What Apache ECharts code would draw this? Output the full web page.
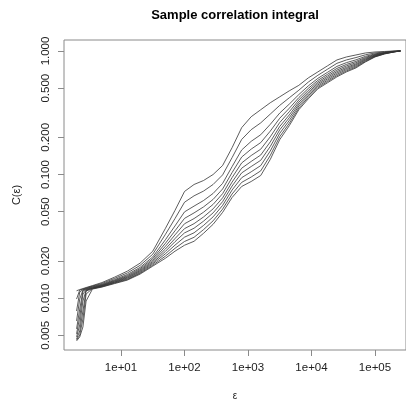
<!DOCTYPE html>
<html><head><meta charset="utf-8">
<script src="https://cdn.jsdelivr.net/npm/echarts@6/dist/echarts.min.js"></script>
<style>html,body{margin:0;padding:0;background:#fff}#c{width:406px;height:406px}</style>
</head><body><div id="c"></div>
<script>
const eps = [1.995, 2.239, 2.512, 2.818, 3.548, 5.012, 7.943, 12.59, 19.95, 31.62, 50.12, 70.79, 100, 141.3, 199.5, 281.8, 398.1, 562.3, 794.3, 1122, 1585, 2239, 3162, 4467, 6310, 8913, 12589, 17783, 25119, 35481, 50119, 70795, 100000, 141254, 199526, 251189];

const curve1 = [0.01146, 0.01172, 0.01194, 0.01217, 0.01262, 0.01335, 0.01478, 0.01652, 0.01917, 0.02395, 0.0367, 0.05126, 0.07294, 0.08306, 0.08946, 0.1, 0.1183, 0.1652, 0.2395, 0.2937, 0.3345, 0.3809, 0.4257, 0.4759, 0.5271, 0.6058, 0.6772, 0.757, 0.8462, 0.8946, 0.9284, 0.9636, 0.9816, 0.9908, 1.0, 1.0];
const curve2 = [0.00982, 0.01161, 0.01183, 0.01205, 0.01251, 0.01313, 0.01443, 0.01598, 0.01839, 0.02265, 0.03283, 0.04401, 0.05968, 0.06722, 0.07347, 0.08306, 0.0993, 0.1373, 0.1923, 0.2308, 0.2618, 0.3082, 0.3629, 0.4179, 0.4812, 0.5604, 0.6358, 0.7107, 0.7944, 0.8462, 0.8846, 0.9318, 0.9636, 0.9816, 0.9963, 1.0];
const curve3 = [0.00786, 0.01119, 0.01172, 0.01194, 0.01239, 0.01293, 0.01411, 0.01551, 0.01772, 0.02154, 0.0297, 0.03837, 0.04986, 0.05552, 0.0616, 0.07028, 0.08476, 0.1161, 0.158, 0.1857, 0.2099, 0.2546, 0.3146, 0.3718, 0.4435, 0.5222, 0.6002, 0.6709, 0.75, 0.8048, 0.8476, 0.9046, 0.9476, 0.9725, 0.993, 1.0];
const curve4 = [0.00653, 0.00982, 0.01161, 0.01183, 0.01228, 0.01279, 0.0139, 0.0152, 0.0173, 0.02084, 0.02778, 0.03504, 0.04418, 0.04892, 0.0547, 0.06288, 0.0764, 0.1039, 0.1385, 0.1606, 0.1813, 0.2244, 0.2856, 0.3439, 0.4195, 0.4986, 0.5784, 0.6465, 0.7226, 0.7783, 0.8229, 0.8863, 0.9371, 0.968, 0.9908, 1.0];
const curve5 = [0.00563, 0.00815, 0.0114, 0.01172, 0.01217, 0.01269, 0.01375, 0.01495, 0.01695, 0.02026, 0.02628, 0.03247, 0.03997, 0.04401, 0.04957, 0.0573, 0.07001, 0.09458, 0.1241, 0.1425, 0.1603, 0.2019, 0.2637, 0.3223, 0.4011, 0.4795, 0.5604, 0.6264, 0.7001, 0.757, 0.8033, 0.8716, 0.9284, 0.9636, 0.989, 1.0];
const curve6 = [0.00513, 0.00703, 0.01078, 0.01161, 0.01205, 0.0126, 0.0136, 0.01473, 0.01665, 0.01975, 0.02499, 0.03031, 0.03649, 0.04004, 0.04535, 0.05271, 0.06477, 0.087, 0.1125, 0.1276, 0.1438, 0.1836, 0.2453, 0.3037, 0.3852, 0.4628, 0.545, 0.6092, 0.681, 0.7375, 0.7856, 0.8587, 0.9198, 0.96, 0.9872, 1.0];
const curve7 = [0.00485, 0.00606, 0.00946, 0.0115, 0.01205, 0.01251, 0.01347, 0.01454, 0.01637, 0.01931, 0.0239, 0.02861, 0.0337, 0.03677, 0.04195, 0.04892, 0.06036, 0.08078, 0.1031, 0.1161, 0.1303, 0.1686, 0.2303, 0.2883, 0.3711, 0.4485, 0.531, 0.5937, 0.6635, 0.7213, 0.7711, 0.8476, 0.913, 0.9564, 0.9858, 1.0];
const curve8 = [0.00467, 0.00542, 0.00786, 0.0114, 0.01194, 0.01245, 0.01335, 0.01433, 0.01609, 0.01889, 0.02286, 0.02682, 0.03111, 0.03376, 0.03873, 0.04543, 0.05625, 0.075, 0.09423, 0.1052, 0.1181, 0.1549, 0.2158, 0.2736, 0.3583, 0.4345, 0.5173, 0.5784, 0.6465, 0.7054, 0.7556, 0.8352, 0.9063, 0.9529, 0.9844, 1.0];
const curve9 = [0.00459, 0.00503, 0.00677, 0.01078, 0.01194, 0.01235, 0.01323, 0.01414, 0.01585, 0.01846, 0.02186, 0.02527, 0.02872, 0.03105, 0.03583, 0.04218, 0.05251, 0.06963, 0.08635, 0.09546, 0.107, 0.1425, 0.2026, 0.2598, 0.3451, 0.4218, 0.505, 0.5645, 0.6311, 0.6899, 0.7416, 0.8245, 0.8995, 0.9493, 0.983, 1.0];
const curve10 = [0.0045, 0.00485, 0.00584, 0.00946, 0.01183, 0.01228, 0.01311, 0.01398, 0.01563, 0.01813, 0.02103, 0.02395, 0.02677, 0.02883, 0.03345, 0.03953, 0.04939, 0.06525, 0.08004, 0.08782, 0.09816, 0.1323, 0.1917, 0.2485, 0.3345, 0.4102, 0.4939, 0.5521, 0.6172, 0.6772, 0.7294, 0.8153, 0.8946, 0.9458, 0.9816, 1.0];

const xTickValues = [10, 100, 1000, 10000, 100000];
const xTickLabels = ['1e+01', '1e+02', '1e+03', '1e+04', '1e+05'];
const yTickValues = [0.005, 0.01, 0.02, 0.05, 0.1, 0.2, 0.5, 1];
const yTickLabels = ['0.005', '0.010', '0.020', '0.050', '0.100', '0.200', '0.500', '1.000'];

const curves = [curve1, curve2, curve3, curve4, curve5, curve6, curve7, curve8, curve9, curve10];

function lookup(values, labels, v) {
  const i = values.findIndex(t => Math.abs(t - v) / t < 1e-6);
  return i >= 0 ? labels[i] : '';
}

const FONT = 'Liberation Sans';
const chart = echarts.init(document.getElementById('c'), null, {renderer: 'canvas'});
chart.setOption({
  animation: false,
  backgroundColor: '#fff',
  title: {
    text: 'Sample correlation integral',
    left: 235, top: 9, textAlign: 'center', padding: 0,
    textStyle: {fontFamily: FONT, fontSize: 13, fontWeight: 'bold', color: '#000'}
  },
  grid: {left: 64, top: 40, width: 343, height: 312, show: true, borderColor: '#8a8a8a', borderWidth: 1, containLabel: false},
  xAxis: {
    type: 'log', logBase: 10, min: 1.265, max: 307600,
    name: 'ε', nameLocation: 'middle', nameGap: 41,
    nameTextStyle: {fontFamily: FONT, fontSize: 10, color: '#222'},
    axisLine: {show: false},
    axisTick: {show: true, length: 6, lineStyle: {color: '#8a8a8a', width: 1}, customValues: xTickValues},
    axisLabel: {show: true, margin: 12, fontFamily: FONT, fontSize: 11.5, color: '#222',
      customValues: xTickValues, formatter: v => lookup(xTickValues, xTickLabels, v)},
    splitLine: {show: false}, minorTick: {show: false}
  },
  yAxis: {
    type: 'log', logBase: 10, min: 0.0038, max: 1.227,
    name: 'C(ε)', nameLocation: 'middle', nameGap: 42, nameRotate: 90,
    nameTextStyle: {fontFamily: FONT, fontSize: 11, color: '#222'},
    axisLine: {show: false},
    axisTick: {show: true, length: 6, lineStyle: {color: '#8a8a8a', width: 1}, customValues: yTickValues},
    axisLabel: {show: true, rotate: 90, margin: 12, fontFamily: FONT, fontSize: 11.5, color: '#222',
      customValues: yTickValues, formatter: v => lookup(yTickValues, yTickLabels, v)},
    splitLine: {show: false}, minorTick: {show: false}
  },
  series: curves.map((c, k) => ({
    type: 'line', name: 'm' + (k + 1), showSymbol: false, silent: true, clip: true,
    data: eps.map((e, i) => [e, c[i]]),
    lineStyle: {color: '#333', width: 0.8}
  }))
});
</script>
</body></html>
